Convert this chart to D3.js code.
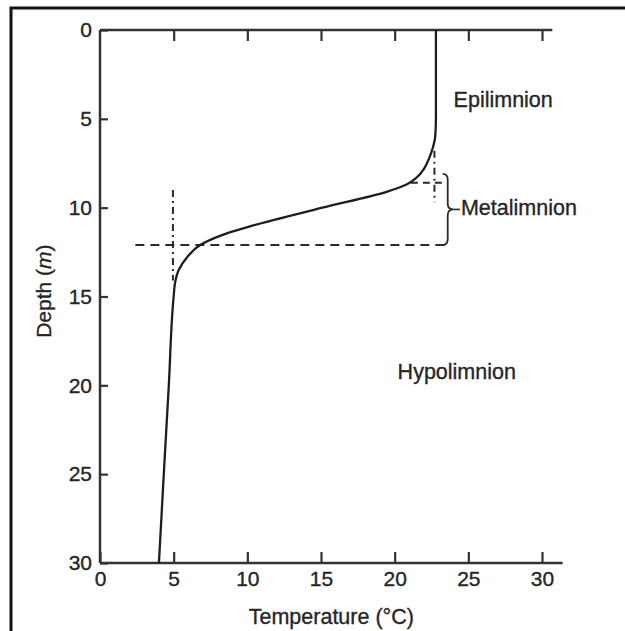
<!DOCTYPE html>
<html>
<head>
<meta charset="utf-8">
<script src="https://cdn.jsdelivr.net/npm/d3@7"></script>
<style>
  body { margin: 0; background: #fff; }
  text { font-family: "Liberation Sans", Arial, sans-serif; fill: #262626; stroke: #262626; stroke-width: 0.35px; }
</style>
</head>
<body>
<div class="graph-container"></div>
<script>
// temperature profile (depth in m, temperature in deg C)
var depths = [0, 5, 6, 6.6, 7.2, 7.8, 8.3, 8.7, 9.1, 10, 11, 11.6, 12.1, 12.8, 13.5, 14.2, 15, 20, 25, 30];
var temps  = [22.8, 22.8, 22.75, 22.6, 22.35, 22.0, 21.5, 20.8, 19.5, 15.1, 10.4, 8.1, 6.8, 5.9, 5.35, 5.1, 5.0, 4.67, 4.33, 4.0];

var xTicks = [0, 5, 10, 15, 20, 25, 30];
var yTicks = [0, 5, 10, 15, 20, 25, 30];

// layer labels: [text, temperature, depth]
var layerNames = ['Epilimnion', 'Metalimnion', 'Hypolimnion'];
var layerTemps = [24.0, 24.5, 20.2];
var layerDepths = [4.0, 10.1, 19.3];

// guide lines (temperature / depth)
var metaTop = 8.1;
var metaBottom = 12.1;
var braceTemp = 23.6;

var svgWidth = 625;
var svgHeight = 631;

var svg = d3.select('.graph-container').append('svg')
  .attr('width', svgWidth)
  .attr('height', svgHeight);

// outer frame, runs off the right and bottom edge
svg.append('rect')
  .attr('x', 11)
  .attr('y', 8)
  .attr('width', 700)
  .attr('height', 700)
  .attr('fill', 'none')
  .attr('stroke', '#111')
  .attr('stroke-width', 3);

var xScale = d3.scaleLinear()
  .domain([0, 30])
  .range([100, 542]);

var yScale = d3.scaleLinear()
  .domain([0, 30])
  .range([30, 563]);

var axisColor = '#333';

// bottom axis, ticks pointing up
var xAxis = svg.append('g')
  .attr('transform', 'translate(0,' + yScale(30) + ')')
  .call(d3.axisBottom(xScale).tickValues(xTicks).tickSize(-11).tickSizeOuter(0).tickPadding(8));

// top axis, no labels
var topAxis = svg.append('g')
  .attr('transform', 'translate(0,' + yScale(0) + ')')
  .call(d3.axisTop(xScale).tickValues(xTicks.slice(1)).tickSize(-11).tickSizeOuter(0).tickFormat(''));

// left axis, ticks pointing right
var yAxis = svg.append('g')
  .attr('transform', 'translate(' + xScale(0) + ',0)')
  .call(d3.axisLeft(yScale).tickValues(yTicks).tickSize(-8).tickSizeOuter(0).tickPadding(8));

[xAxis, topAxis, yAxis].forEach(function(g) {
  g.select('.domain').remove();
  g.selectAll('line').attr('stroke', axisColor).attr('stroke-width', 2.2);
  g.selectAll('text')
    .style('font-family', '"Liberation Sans", Arial, sans-serif')
    .style('font-size', '21px')
    .attr('fill', '#262626');
});

// axis lines, a bit longer than the 30 deg tick like in the picture
svg.append('line')
  .attr('x1', xScale(0)).attr('x2', xScale(31.4))
  .attr('y1', yScale(30)).attr('y2', yScale(30))
  .attr('stroke', axisColor).attr('stroke-width', 2.5);
svg.append('line')
  .attr('x1', xScale(0)).attr('x2', xScale(30.7))
  .attr('y1', yScale(0)).attr('y2', yScale(0))
  .attr('stroke', axisColor).attr('stroke-width', 2.5);
svg.append('line')
  .attr('x1', xScale(0)).attr('x2', xScale(0))
  .attr('y1', yScale(0)).attr('y2', yScale(30))
  .attr('stroke', axisColor).attr('stroke-width', 2.5);

// axis titles
svg.append('text')
  .attr('x', (xScale(0) + xScale(31.4)) / 2)
  .attr('y', 618)
  .attr('dominant-baseline', 'middle')
  .style('text-anchor', 'middle')
  .style('font-size', '21.5px')
  .text('Temperature (°C)');

var yTitle = svg.append('text')
  .attr('transform', 'translate(45,' + yScale(14.7) + ') rotate(-90)')
  .attr('dominant-baseline', 'middle')
  .style('text-anchor', 'middle')
  .style('font-size', '21px');
yTitle.append('tspan').text('Depth (');
yTitle.append('tspan').style('font-style', 'italic').text('m');
yTitle.append('tspan').text(')');

// guide lines
var guide = svg.append('g')
  .attr('fill', 'none')
  .attr('stroke', '#2a2a2a')
  .attr('stroke-width', 2);

// long dashed line at the bottom of the metalimnion
guide.append('line')
  .attr('x1', xScale(2.4)).attr('x2', xScale(braceTemp - 0.2))
  .attr('y1', yScale(metaBottom)).attr('y2', yScale(metaBottom))
  .attr('stroke-dasharray', '9,6');

// short dashed line at the top of the metalimnion
guide.append('line')
  .attr('x1', xScale(21.1)).attr('x2', xScale(23.2))
  .attr('y1', yScale(8.6)).attr('y2', yScale(8.6))
  .attr('stroke-dasharray', '7,5');

// dash-dot verticals
guide.append('line')
  .attr('x1', xScale(4.95)).attr('x2', xScale(4.95))
  .attr('y1', yScale(9.0)).attr('y2', yScale(14.1))
  .attr('stroke-dasharray', '7,4,2,4');
guide.append('line')
  .attr('x1', xScale(22.7)).attr('x2', xScale(22.7))
  .attr('y1', yScale(6.8)).attr('y2', yScale(9.7))
  .attr('stroke-dasharray', '7,4,2,4');

// curly brace for the metalimnion
var bx = xScale(braceTemp);
var bTop = yScale(metaTop);
var bBot = yScale(metaBottom);
var bMid = (bTop + bBot) / 2;
var tipX = xScale(24.3);
guide.append('path')
  .attr('stroke-width', 1.8)
  .attr('d',
    'M' + (bx - 5) + ',' + bTop +
    ' Q' + bx + ',' + bTop + ' ' + bx + ',' + (bTop + 6) +
    ' L' + bx + ',' + (bMid - 6) +
    ' Q' + bx + ',' + bMid + ' ' + (bx + 6) + ',' + bMid +
    ' Q' + bx + ',' + bMid + ' ' + bx + ',' + (bMid + 6) +
    ' L' + bx + ',' + (bBot - 6) +
    ' Q' + bx + ',' + bBot + ' ' + (bx - 5) + ',' + bBot);
guide.append('line')
  .attr('x1', bx + 6).attr('x2', tipX + 2)
  .attr('y1', bMid).attr('y2', bMid)
  .attr('stroke-width', 1.6);

// temperature profile
var profile = depths.map(function(d, i) { return { depth: d, temp: temps[i] }; });

var line = d3.line()
  .x(function(d) { return xScale(d.temp); })
  .y(function(d) { return yScale(d.depth); })
  .curve(d3.curveMonotoneY);

svg.append('path')
  .datum(profile)
  .attr('d', line)
  .attr('fill', 'none')
  .attr('stroke', '#1e1e1e')
  .attr('stroke-width', 2.3);

// layer names
svg.selectAll('.layer')
  .data(layerNames)
  .enter()
  .append('text')
  .attr('class', 'layer')
  .attr('x', function(d, i) { return xScale(layerTemps[i]); })
  .attr('y', function(d, i) { return yScale(layerDepths[i]); })
  .attr('dominant-baseline', 'middle')
  .style('font-size', '21.5px')
  .text(function(d) { return d; });
</script>
</body>
</html>
